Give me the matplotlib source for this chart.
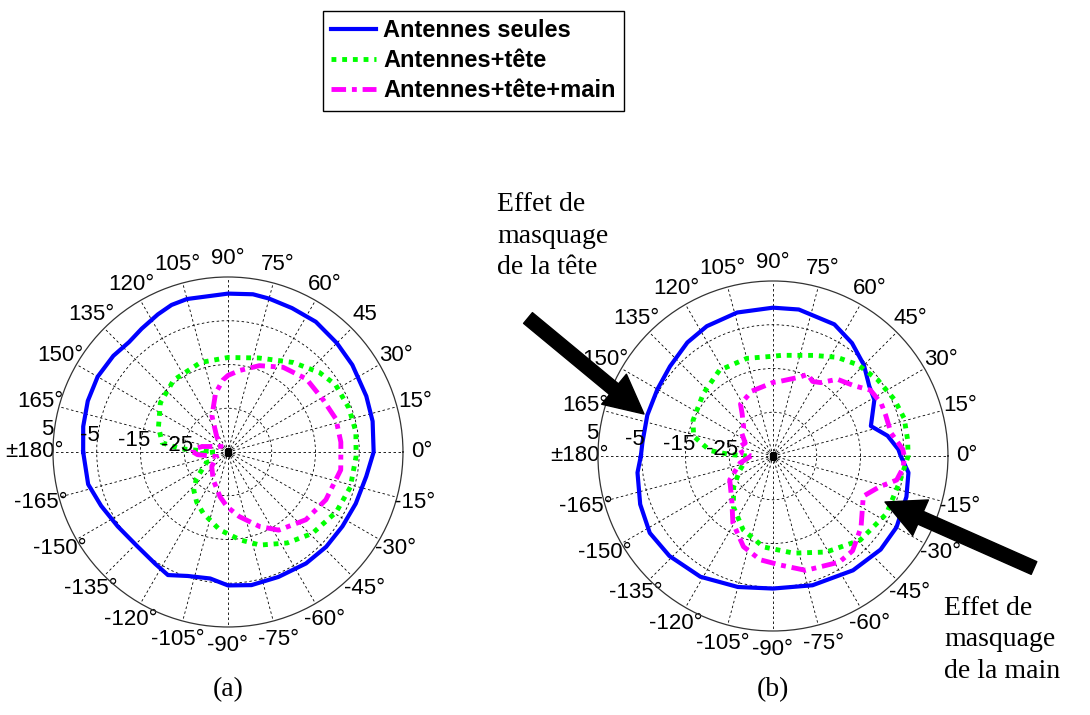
import numpy as np
import matplotlib.pyplot as plt

plt.rcParams['font.family'] = ['Liberation Sans', 'DejaVu Sans']

# (a) angles in degrees, gain in dB
ang_a_seules = [-180, -167, -157, -146, -134, -123, -116, -108, -98, -90, -80, -68, -55, -44, -33, -22, -10,
                0, 12, 22, 35, 45, 56, 66, 75, 81, 90, 105, 111, 117, 125, 132, 140, 150, 160, 170]
db_a_seules = [-1.9, -2.2, -3.5, -4.6, -5.1, -4.5, -3.7, -5.2, -5.8, -4.5, -4.1, -4.2, -3.9, -3.8, -3.8, -3.5, -2.9,
               -1.7, -1.2, -0.9, -0.3, 0.2, 0.9, 1.0, 1.3, 1.5, 1.2, 1.2, 1.0, 0.3, -0.6, -1.2, -0.8, -0.6, -0.9, -1.4]

ang_a_tete = [-180, -177, -170, -155, -140, -132, -122, -112, -96, -82, -71, -57, -44, -29, -16, -2,
              9, 20, 32, 41, 54, 72, 90, 107, 127, 144, 160, 172, 176]
db_a_tete = [-32, -29, -29.5, -29.7, -25.6, -23.3, -21.5, -19.9, -17.1, -14.7, -12.5, -10.2, -8.2, -6.7, -5.9, -5.7,
             -5.4, -5.6, -6.0, -7.3, -9.7, -12.4, -13.4, -13.6, -14.4, -15.9, -18.1, -19.8, -24]

ang_a_main = [-180, -175, -158, -138, -118, -100, -91, -80, -67, -57, -41, -26, -9,
              0, 5, 17, 29, 43, 57, 70, 82, 90, 94, 102, 114, 126, 140, 155, 168, 175]
db_a_main = [-27, -28, -32.2, -30, -27.8, -24.6, -22.5, -20, -16.5, -13.7, -11.4, -10.1, -8.9,
             -9.2, -9.1, -9.2, -10.2, -10.5, -11.9, -14.0, -16.2, -17.5, -18.5, -21.3, -26, -30.6, -33, -32, -29, -27]

# (b)
ang_b_seules = [-180, -173, -160, -148, -136, -121, -105, -90, -73, -55, -41, -30, -17, -7,
                0, 3, 10, 17, 29, 36, 45, 55, 65, 80, 90, 104, 117, 127, 139, 150, 162, 174]
db_b_seules = [-4.8, -3.8, -2.7, -1.8, -2.1, -2.8, -4.0, -4.7, -4.1, -3.1, -2.4, -2.4, -3.1, -3.8,
               -5.8, -6.3, -8.4, -11.6, -8.5, -7.8, -5.6, -3.5, -1.8, -1.0, -1.1, -1.2, -1.7, -2.5, -3.8, -4.5, -4.8, -5.0]

ang_b_tete = [-180, -175, -157, -142, -128, -112, -96, -78, -61, -44, -27, -11,
              0, 7, 16, 25, 36, 47, 57, 68, 85, 90, 105, 122, 138, 156, 166, 175, 178]
db_b_tete = [-29, -29, -26.8, -23.6, -20.3, -16.8, -14.1, -12.3, -9.9, -7.3, -5.9, -5.4,
             -4.1, -4.0, -3.8, -4.4, -5.4, -6.5, -8.1, -10.2, -11.9, -12.2, -11.9, -11.9, -13.6, -15.0, -16.3, -20.5, -25]

ang_b_main = [-180, -168, -151, -133, -121, -108, -97, -86, -74, -58, -50, -39, -24, -16, -11, -5,
              0, 3, 11, 20, 26, 34, 41, 50, 57, 62, 67, 71, 84, 90, 108, 122, 126, 136, 144, 155, 165, 175]
db_b_main = [-30, -27.3, -23.7, -21.2, -17.2, -13.2, -11.1, -10.0, -7.8, -6.4, -6.7, -9.1, -12.4, -9.6, -6.2, -5.1,
             -5.0, -5.3, -7.5, -7.6, -7.5, -8.1, -10.5, -12.1, -15.0, -15.7, -14.7, -15.9, -17.8, -18.2, -19.4, -21, -23,
             -25.7, -26.2, -28, -27, -28]

labels = ['Antennes seules', 'Antennes+tête', 'Antennes+tête+main']
r_rings = [-25, -15, -5, 5]

fig = plt.figure(figsize=(10.9, 7.15), dpi=100)


def closed(ang, db):
    t = np.deg2rad(np.append(ang, ang[0]))
    return t, np.append(db, db[0])


def polar_panel(rect, data, no_deg45=False):
    ax = fig.add_axes(rect, projection='polar')
    ax.set_rlim(-35, 5)
    ax.set_rticks([-25, -15, -5])
    ax.set_yticklabels([])
    angles = np.arange(0, 360, 15)
    tl = []
    for a in angles:
        if a == 180:
            tl.append('±180°')
        elif a < 180:
            tl.append(f'{a}°')
        else:
            tl.append(f'{a - 360}°')
    if no_deg45:
        tl[3] = '45'
    ax.set_thetagrids(angles, tl, fontsize=16)
    ax.tick_params(axis='x', pad=3)
    ax.grid(True, color='black', linestyle=(0, (3, 3)), linewidth=0.6)
    ax.spines['polar'].set_color('#333333')
    ax.spines['polar'].set_linewidth(0.9)

    styles = [dict(color='#0000ff', linestyle='-', linewidth=3),
              dict(color='#00ff00', linestyle=(0, (1, 1.2)), linewidth=3.5),
              dict(color='#ff00ff', linestyle=(0, (3, 1.2, 1, 1.2)), linewidth=3.5)]
    lines = []
    for (ang, db), st, lab in zip(data, styles, labels):
        t, r = closed(ang, db)
        ln, = ax.plot(t, r, label=lab, **st)
        lines.append(ln)
    ax.plot([0], [-35], 's', color='black', markersize=4)

    for rv in r_rings:
        ax.text(np.deg2rad(173), rv + 1.7, f'{rv}', fontsize=16, ha='center', va='center')
    return ax, lines


ax_a, lines = polar_panel([0.0486, 0.1231, 0.3211, 0.4895],
                          [(ang_a_seules, db_a_seules), (ang_a_tete, db_a_tete), (ang_a_main, db_a_main)],
                          no_deg45=True)
ax_b, _ = polar_panel([0.5486, 0.1175, 0.3211, 0.4895],
                      [(ang_b_seules, db_b_seules), (ang_b_tete, db_b_tete), (ang_b_main, db_b_main)])

fig.legend(lines, labels, loc='upper left', bbox_to_anchor=(323 / 1090, 1 - 11 / 715),
           prop=dict(family='Liberation Sans', weight='bold', size=17),
           frameon=True, fancybox=False, edgecolor='black', framealpha=1,
           handlelength=1.9, handletextpad=0.3, labelspacing=0.3, borderpad=0.35, borderaxespad=0)

# annotations
serif = dict(family='Liberation Serif', fontsize=20, linespacing=1.35)
fig.text(497 / 1090, 1 - 236 / 715, 'Effet de\nmasquage\nde la tête', ha='left', va='center', **serif)
fig.text(944 / 1090, 1 - 640 / 715, 'Effet de\nmasquage\nde la main', ha='left', va='center', **serif)
fig.text(228 / 1090, 1 - 690 / 715, '(a)', ha='center', va='center', family='Liberation Serif', fontsize=20)
fig.text(773 / 1090, 1 - 690 / 715, '(b)', ha='center', va='center', family='Liberation Serif', fontsize=20)

arrow = dict(facecolor='black', edgecolor='black', width=10, headwidth=28, headlength=28, shrink=0)
ax_b.annotate('', xy=(644, 715 - 414), xytext=(528, 715 - 318), xycoords='figure pixels',
              textcoords='figure pixels', arrowprops=arrow, annotation_clip=False)
ax_b.annotate('', xy=(885, 715 - 502), xytext=(1034, 715 - 568), xycoords='figure pixels',
              textcoords='figure pixels', arrowprops=arrow, annotation_clip=False)

fig.savefig('out.png', dpi=100)
